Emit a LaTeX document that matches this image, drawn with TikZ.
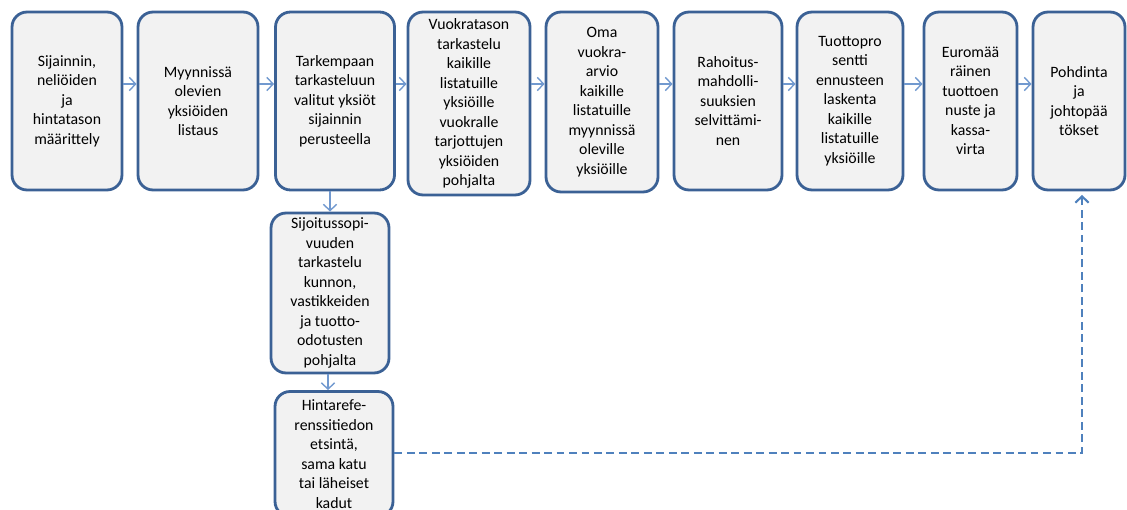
\documentclass[tikz,border=0pt]{standalone}
\usepackage{fontspec}
\setmainfont{Carlito}
\usetikzlibrary{arrows.meta}
\definecolor{boxline}{HTML}{3B6195}
\definecolor{boxfill}{HTML}{F2F2F2}
\definecolor{flowline}{HTML}{7199CF}
\definecolor{dashline}{HTML}{4F81BD}
\tikzset{stage/.style={draw=boxline,fill=boxfill,line width=1.6pt,rounded corners=.3cm,align=center,inner sep=0pt,font=\fontsize{9}{11.1}\selectfont},
  flow/.style={draw=flowline,line width=.8pt,-{Straight Barb[length=3.6pt,width=7.5pt]}},
  back/.style={draw=dashline,line width=1.2pt,dash pattern=on 4.5pt off 2.6pt,-{Straight Barb[length=3.6pt,width=7.5pt]}}}
\begin{document}
\begin{tikzpicture}[x=.02cm,y=-.02cm]
  \useasboundingbox (0,0) rectangle (1127,510);
  \node[stage,minimum width=2.2cm,minimum height=3.56cm] (b1) at (67,101) {Sijainnin,\\neliöiden\\ja\\hintatason\\määrittely};
  \node[stage,minimum width=2.4cm,minimum height=3.56cm] (b2) at (198,101) {Myynnissä\\olevien\\yksiöiden\\listaus};
  \node[stage,minimum width=2.38cm,minimum height=3.56cm] (b3) at (335,101) {Tarkempaan\\tarkasteluun\\valitut yksiöt\\sijainnin\\perusteella};
  \node[stage,minimum width=2.44cm,minimum height=3.66cm] (b4) at (469,103.5) {Vuokratason\\tarkastelu\\kaikille\\listatuille\\yksiöille\\vuokralle\\tarjottujen\\yksiöiden\\pohjalta};
  \node[stage,minimum width=2.24cm,minimum height=3.6cm] (b5) at (602,102) {Oma\\vuokra-\\arvio\\kaikille\\listatuille\\myynnissä\\oleville\\yksiöille};
  \node[stage,minimum width=2.16cm,minimum height=3.56cm] (b6) at (728,101) {Rahoitus-\\mahdolli-\\suuksien\\selvittämi-\\nen};
  \node[stage,minimum width=2.12cm,minimum height=3.56cm] (b7) at (850,101) {Tuottopro\\sentti\\ennusteen\\laskenta\\kaikille\\listatuille\\yksiöille};
  \node[stage,minimum width=1.86cm,minimum height=3.56cm] (b8) at (970.5,101) {Euromää\\räinen\\tuottoen\\nuste ja\\kassa-\\virta};
  \node[stage,minimum width=1.84cm,minimum height=3.56cm] (b9) at (1079,101) {Pohdinta\\ja\\johtopää\\tökset};
  \node[stage,minimum width=2.36cm,minimum height=3.2cm] (s1) at (330,293) {Sijoitussopi-\\vuuden\\tarkastelu\\kunnon,\\vastikkeiden\\ja tuotto-\\odotusten\\pohjalta};
  \node[stage,minimum width=2.36cm,minimum height=2.5cm] (s2) at (334,454) {Hintarefe-\\renssitiedon\\etsintä,\\sama katu\\tai läheiset\\kadut};
  \coordinate (row) at (0,84); \coordinate (turn) at (1082,453);
  \foreach \a/\b in {b1/b2,b2/b3,b3/b4,b4/b5,b5/b6,b6/b7,b7/b8,b8/b9} \draw[flow] (\a.east |- row) -- (\b.west |- row);
  \draw[flow] (b3.south -| s1.north) -- (s1.north); \draw[flow] (s1.south -| 328,0) -- (s2.north -| 328,0);
  \draw[back] (s2.east |- turn) -- (turn) -- ([yshift=-2pt]turn |- b9.south);
\end{tikzpicture}
\end{document}
